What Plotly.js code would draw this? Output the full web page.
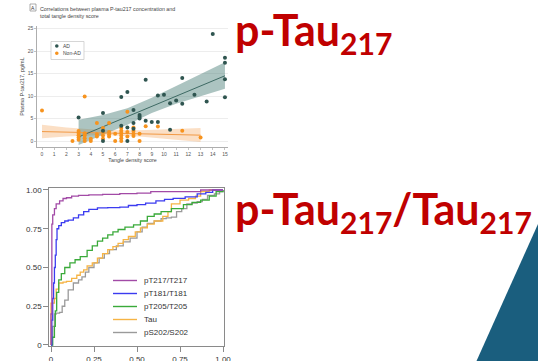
<!DOCTYPE html>
<html>
<head>
<meta charset="utf-8">
<script src="https://cdn.plot.ly/plotly-3.0.1.min.js"></script>
<style>
  html, body { margin: 0; padding: 0; background: #ffffff; }
  #chart { width: 538px; height: 361px; }
</style>
</head>
<body>
<div id="chart"></div>
<script>
// ---- Panel A: plasma P-tau217 vs tangle density score ----
const adTangle = [3, 5, 5, 5, 6.5, 6.5, 7, 7, 7, 7.5, 7.5, 7.5, 8, 8, 8, 8.5, 8.5, 9, 9.5, 9.5,
                  10, 10.5, 10.5, 11, 11.5, 11.5, 12.5, 13.5, 14, 15, 15, 15, 15];
const adPtau = [5.2, 6.2, 2.3, 0, 9.8, 3.4, 10.9, 3.0, 0, 6.9, 4.0, 2.7, 5.8, 5.4, 5.0, 13.6, 4.5, 4.2, 10.1, 4.2,
                10.3, 8.4, 2.5, 9.0, 14.0, 8.3, 10.3, 8.8, 23.8, 18.5, 17.4, 13.7, 9.7];

const nonAdTangle = [0, 2.5, 3, 3, 3, 3, 3, 3.5, 3.5, 3.5, 3.5, 3.5, 4, 4, 4.5, 4.5, 4.5, 5, 5, 5, 5,
                     5.5, 5.5, 5.5, 5.5, 6, 6, 6.5, 6.5, 6.5, 6.5, 6.5, 6.5, 7, 7, 7, 7.5, 7.5, 7.5, 7.5,
                     8, 8, 8.5, 9.5, 11.5, 13];
const nonAdPtau = [6.8, 0, 0.3, 0.8, 1.3, 1.8, 2.2, 9.9, 0, 0.6, 1.2, 1.7, 0, 0.5, 4.0, 1.0, 1.5, 2.9, 2.0, 1.2, 0.5,
                   4.0, 2.0, 1.5, 1.0, 1.6, 0, 2.9, 2.3, 1.8, 1.2, 0.6, 0, 6.5, 2.0, 1.0, 3.0, 2.2, 1.6, 1.1,
                   1.6, 0, 3.3, 3.2, 2.3, 0.8];

// fitted lines and 95% confidence bands
const adFitX = [3, 15];
const adFitY = [0.9, 14.5];
const adBandX = [3, 5, 7, 9, 11, 13, 15];
const adBandUpper = [4.7, 5.8, 7.3, 9.6, 12.2, 14.8, 17.5];
const adBandLower = [-0.9, 1.4, 3.6, 6.2, 8.3, 10.0, 11.6];

const nonAdFitX = [0, 13];
const nonAdFitY = [2.1, 1.3];
const nonAdBandX = [0, 2, 4, 6, 8, 10, 13];
const nonAdBandUpper = [3.6, 3.0, 2.6, 2.4, 2.4, 2.6, 2.9];
const nonAdBandLower = [0.6, 1.0, 1.2, 1.2, 1.0, 0.6, -0.2];

const tangleTicks = [0, 1, 2, 3, 4, 5, 6, 7, 8, 9, 10, 11, 12, 13, 14, 15];
const ptauTicks = [0, 5, 10, 15, 20, 25];

// ---- ROC curves ----
const rocNames = ['pT217/T217', 'pT181/T181', 'pT205/T205', 'Tau', 'pS202/S202'];
const rocColors = ['#a24aa6', '#3b3bf0', '#3aaa3a', '#f6b445', '#9a9a9a'];

const fprT217 = [0, 0, 0.005, 0.005, 0.01, 0.02, 0.03, 0.05, 0.07, 0.09, 0.12, 0.16, 0.22, 0.3, 0.4, 0.5, 0.58, 0.7, 0.8, 0.87, 0.95, 1];
const tprT217 = [0, 0.2, 0.5, 0.78, 0.84, 0.88, 0.91, 0.93, 0.945, 0.95, 0.96, 0.965, 0.968, 0.972, 0.976, 0.98, 0.99, 0.99, 0.99, 1.0, 1.0, 1];

const fprT181 = [0, 0.005, 0.01, 0.015, 0.02, 0.025, 0.03, 0.035, 0.045, 0.06, 0.08, 0.1, 0.13, 0.16, 0.19, 0.22, 0.27, 0.33, 0.4,
                 0.45, 0.5, 0.55, 0.61, 0.66, 0.71, 0.78, 0.85, 0.9, 0.94, 1];
const tprT181 = [0, 0.16, 0.3, 0.4, 0.5, 0.58, 0.68, 0.75, 0.77, 0.79, 0.8, 0.805, 0.82, 0.84, 0.86, 0.875, 0.885, 0.886, 0.89,
                 0.9, 0.905, 0.915, 0.93, 0.94, 0.946, 0.955, 0.975, 0.985, 1.0, 1];

const fprT205 = [0, 0.01, 0.02, 0.025, 0.033, 0.045, 0.06, 0.08, 0.11, 0.14, 0.17, 0.21, 0.24, 0.27, 0.3, 0.33, 0.36, 0.39,
                 0.43, 0.48, 0.52, 0.56, 0.6, 0.64, 0.7, 0.77, 0.82, 0.87, 0.92, 0.96, 1];
const tprT205 = [0, 0.05, 0.12, 0.22, 0.34, 0.42, 0.46, 0.5, 0.53, 0.55, 0.57, 0.61, 0.64, 0.67, 0.69, 0.71, 0.73, 0.745,
                 0.76, 0.775, 0.8, 0.83, 0.845, 0.86, 0.88, 0.905, 0.92, 0.935, 0.96, 0.99, 1];

const fprTau = [0, 0, 0, 0.02, 0.03, 0.045, 0.07, 0.09, 0.12, 0.15, 0.17, 0.19, 0.21, 0.24, 0.27, 0.3, 0.33, 0.36, 0.39,
                0.42, 0.45, 0.49, 0.52, 0.56, 0.6, 0.65, 0.68, 0.7, 0.75, 0.8, 0.84, 0.87, 0.92, 1];
const tprTau = [0, 0.15, 0.27, 0.3, 0.36, 0.4, 0.405, 0.41, 0.43, 0.45, 0.47, 0.485, 0.51, 0.53, 0.56, 0.59, 0.615, 0.635, 0.655,
                0.68, 0.7, 0.73, 0.755, 0.78, 0.8, 0.83, 0.86, 0.91, 0.935, 0.945, 0.96, 0.99, 1.0, 1];

const fprS202 = [0, 0.005, 0.01, 0.02, 0.03, 0.05, 0.065, 0.08, 0.1, 0.13, 0.16, 0.18, 0.2, 0.22, 0.25, 0.28, 0.31, 0.34, 0.38,
                 0.42, 0.46, 0.5, 0.53, 0.56, 0.6, 0.64, 0.67, 0.7, 0.73, 0.76, 0.79, 0.82, 0.85, 0.88, 0.91, 0.95, 0.98, 1];
const tprS202 = [0, 0.05, 0.12, 0.2, 0.205, 0.21, 0.25, 0.29, 0.355, 0.4, 0.42, 0.44, 0.47, 0.5, 0.53, 0.56, 0.59, 0.615, 0.64,
                 0.665, 0.69, 0.73, 0.76, 0.785, 0.8, 0.815, 0.82, 0.825, 0.86, 0.88, 0.91, 0.915, 0.925, 0.94, 0.965, 0.975, 0.99, 1];

const rocTicks = [0, 0.25, 0.5, 0.75, 1];
const rocTickText = ['0', '0.25', '0.50', '0.75', '1.00'];

// ---- drawing ----
const W = 538, H = 361;
const px = v => v / W;          // pixel column -> paper x
const py = v => 1 - v / H;      // pixel row -> paper y

const AD_COLOR = '#2f5550';
const NONAD_COLOR = '#f7931e';
const smallFont = 'Liberation Sans, Arial, sans-serif';

function band(xs, lo, hi, fill) {
  return {
    x: xs.concat(xs.slice().reverse()),
    y: hi.concat(lo.slice().reverse()),
    xaxis: 'x', yaxis: 'y', type: 'scatter', mode: 'lines',
    fill: 'toself', fillcolor: fill, line: { width: 0 }, hoverinfo: 'skip', showlegend: false
  };
}

const traces = [
  band(nonAdBandX, nonAdBandLower, nonAdBandUpper, 'rgba(246,176,110,0.40)'),
  band(adBandX, adBandLower, adBandUpper, 'rgba(70,125,118,0.45)'),
  { x: nonAdFitX, y: nonAdFitY, xaxis: 'x', yaxis: 'y', mode: 'lines',
    line: { color: '#f29a45', width: 1 }, showlegend: false },
  { x: adFitX, y: adFitY, xaxis: 'x', yaxis: 'y', mode: 'lines',
    line: { color: '#3e6a64', width: 1 }, showlegend: false },
  { x: nonAdTangle, y: nonAdPtau, xaxis: 'x', yaxis: 'y', mode: 'markers', name: 'Non-AD',
    marker: { color: NONAD_COLOR, size: 4 }, showlegend: false },
  { x: adTangle, y: adPtau, xaxis: 'x', yaxis: 'y', mode: 'markers', name: 'AD',
    marker: { color: AD_COLOR, size: 4 }, showlegend: false }
];

const rocFpr = [fprT217, fprT181, fprT205, fprTau, fprS202];
const rocTpr = [tprT217, tprT181, tprT205, tprTau, tprS202];
for (let i = rocNames.length - 1; i >= 0; i--) {
  traces.push({
    x: rocFpr[i], y: rocTpr[i], xaxis: 'x2', yaxis: 'y2', mode: 'lines', name: rocNames[i],
    line: { color: rocColors[i], width: 1.3, shape: 'hv' }, showlegend: false
  });
}

const shapes = [
  // slide accent
  { type: 'path', xref: 'paper', yref: 'paper',
    path: `M ${px(538)},${py(224)} L ${px(476.5)},${py(361)} L ${px(538)},${py(361)} Z`,
    fillcolor: '#1a5e7e', line: { width: 0 }, layer: 'below' },
  // panel A key
  { type: 'rect', xref: 'paper', yref: 'paper',
    x0: px(51), x1: px(84), y0: py(59.5), y1: py(41.5),
    line: { color: '#c4c4c4', width: 0.7 }, fillcolor: '#ffffff' },
  { type: 'circle', xref: 'paper', yref: 'paper',
    x0: px(55), x1: px(58.6), y0: py(47.8), y1: py(44.2), fillcolor: AD_COLOR, line: { width: 0 } },
  { type: 'circle', xref: 'paper', yref: 'paper',
    x0: px(55), x1: px(58.6), y0: py(55.1), y1: py(51.5), fillcolor: NONAD_COLOR, line: { width: 0 } },
  // panel letter box
  { type: 'rect', xref: 'paper', yref: 'paper',
    x0: px(30), x1: px(36), y0: py(11), y1: py(4),
    line: { color: '#777777', width: 0.6 }, fillcolor: '#ffffff' }
];

const annotations = [
  { xref: 'paper', yref: 'paper', x: px(33), y: py(7.5), text: 'A', showarrow: false,
    font: { family: smallFont, size: 5, color: '#333' }, xanchor: 'center', yanchor: 'middle' },
  { xref: 'paper', yref: 'paper', x: px(37.5), y: py(4), xanchor: 'left', yanchor: 'top', align: 'left',
    text: 'Correlations between plasma P-tau217 concentration and<br>total tangle density score',
    showarrow: false, font: { family: smallFont, size: 5.3, color: '#444' } },
  { xref: 'paper', yref: 'paper', x: px(60.5), y: py(46), text: 'AD', showarrow: false,
    xanchor: 'left', yanchor: 'middle', font: { family: smallFont, size: 5, color: '#444' } },
  { xref: 'paper', yref: 'paper', x: px(60.5), y: py(53.3), text: 'Non-AD', showarrow: false,
    xanchor: 'left', yanchor: 'middle', font: { family: smallFont, size: 5, color: '#444' } },
  // headings
  { xref: 'paper', yref: 'paper', x: px(233), y: py(2), xanchor: 'left', yanchor: 'top',
    text: 'p-Tau<sub>217</sub>', showarrow: false,
    font: { family: 'Lato, sans-serif', size: 43, color: '#c00000', weight: 700 } },
  { xref: 'paper', yref: 'paper', x: px(233), y: py(181), xanchor: 'left', yanchor: 'top',
    text: 'p-Tau<sub>217</sub>/Tau<sub>217</sub>', showarrow: false,
    font: { family: 'Lato, sans-serif', size: 43, color: '#c00000', weight: 700 } }
];

// ROC key
const keyRows = [280.5, 293.5, 306.5, 319.5, 332.5];
rocNames.forEach((name, i) => {
  shapes.push({ type: 'line', xref: 'paper', yref: 'paper',
    x0: px(113), x1: px(137), y0: py(keyRows[i]), y1: py(keyRows[i]),
    line: { color: rocColors[i], width: 1.4 } });
  annotations.push({ xref: 'paper', yref: 'paper', x: px(141.5), y: py(keyRows[i]), text: name,
    showarrow: false, xanchor: 'left', yanchor: 'middle',
    font: { family: smallFont, size: 8, color: '#333' } });
});

const layout = {
  width: W, height: H,
  margin: { l: 0, r: 0, t: 0, b: 0 },
  paper_bgcolor: '#ffffff', plot_bgcolor: 'rgba(0,0,0,0)',
  showlegend: false,
  xaxis: {
    domain: [px(37), px(228)], anchor: 'y', range: [-0.41, 15.25],
    tickvals: tangleTicks, ticks: 'outside', ticklen: 2, tickwidth: 0.6, tickcolor: '#999',
    showline: true, linecolor: '#9a9a9a', linewidth: 0.8, showgrid: false, zeroline: false,
    tickfont: { family: smallFont, size: 5, color: '#555' },
    title: { text: 'Tangle density score', font: { family: smallFont, size: 5.3, color: '#444' }, standoff: 2 }
  },
  yaxis: {
    domain: [py(147), py(26)], anchor: 'x', range: [-1.33, 25.56],
    tickvals: ptauTicks, ticks: 'outside', ticklen: 2, tickwidth: 0.6, tickcolor: '#999',
    showline: true, linecolor: '#9a9a9a', linewidth: 0.8,
    showgrid: true, gridcolor: '#e6e6e6', gridwidth: 0.7, zeroline: false,
    tickfont: { family: smallFont, size: 5, color: '#555' },
    title: { text: 'Plasma P-tau217, pg/mL', font: { family: smallFont, size: 5.3, color: '#444' }, standoff: 2 }
  },
  xaxis2: {
    domain: [px(49.3), px(224)], anchor: 'y2', range: [-0.0099, 1.0058],
    tickvals: rocTicks, ticktext: rocTickText, ticks: 'outside', ticklen: 5, tickcolor: '#8a8a8a',
    showline: true, mirror: true, linecolor: '#8a8a8a', linewidth: 1, showgrid: false, zeroline: false,
    tickfont: { family: smallFont, size: 8, color: '#333' }
  },
  yaxis2: {
    domain: [py(346), py(187.7)], anchor: 'x2', range: [-0.0065, 1.0148],
    tickvals: rocTicks, ticktext: rocTickText, ticks: 'outside', ticklen: 5, tickcolor: '#8a8a8a',
    showline: true, mirror: true, linecolor: '#8a8a8a', linewidth: 1, showgrid: false, zeroline: false,
    tickfont: { family: smallFont, size: 8, color: '#333' }
  },
  shapes: shapes,
  annotations: annotations
};

Plotly.newPlot('chart', traces, layout, { staticPlot: true, displayModeBar: false });
</script>
</body>
</html>
